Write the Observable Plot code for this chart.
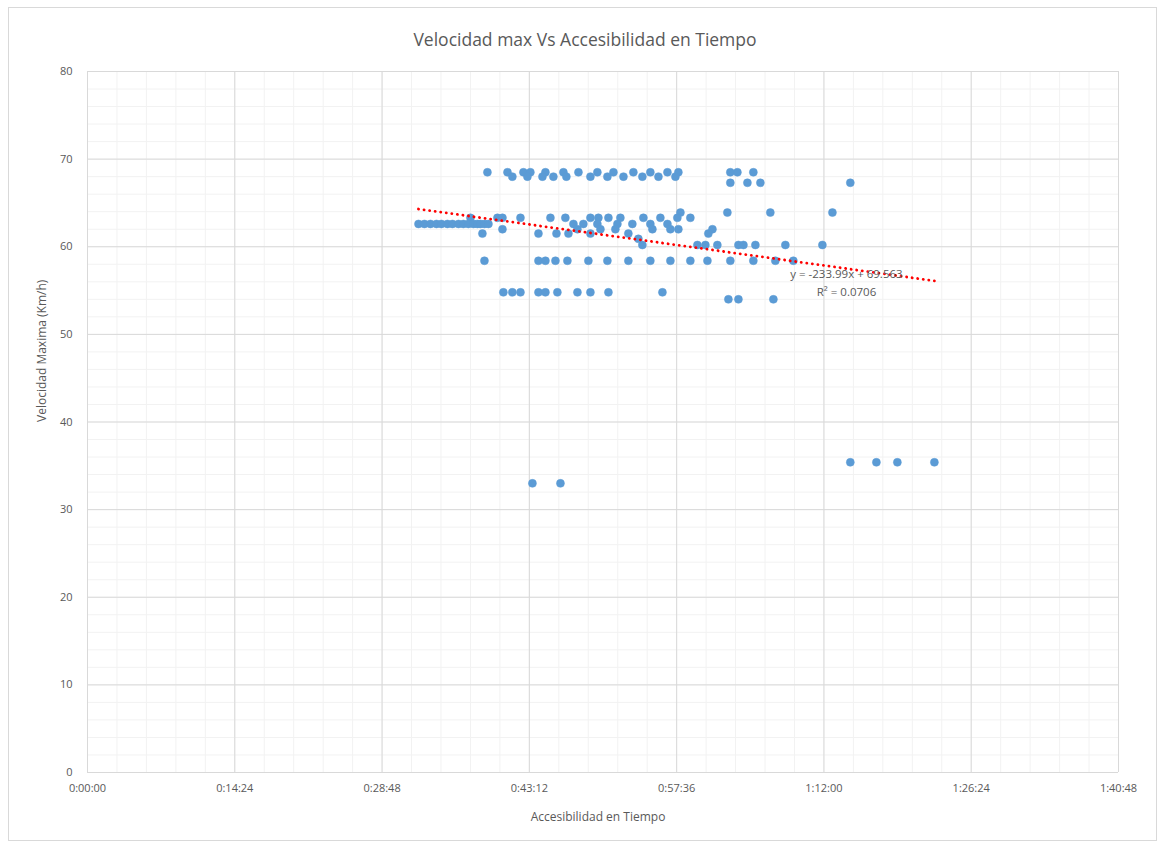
<!DOCTYPE html>
<html>
<head>
<meta charset="utf-8">
<script src="https://cdn.jsdelivr.net/npm/d3@7"></script>
<script src="https://cdn.jsdelivr.net/npm/@observablehq/plot@0.6"></script>
<style>
  body { margin: 0; background: #fff; font-family: "Open Sans", sans-serif; }
  #frame { position: absolute; left: 8px; top: 7px; width: 1149px; height: 834px; border: 1px solid #d9d9d9; box-sizing: border-box; }
  #title { position: absolute; left: 0; top: 27px; width: 1170px; text-align: center; font-size: 17.5px; color: #595959; }
  #chart { position: absolute; left: 0; top: 50px; }
</style>
</head>
<body>
<div id="frame"></div>
<div id="title">Velocidad max Vs Accesibilidad en Tiempo</div>
<div id="chart"></div>
<script>
// Velocidad máxima (km/h) for each row of points
const velocidad = [68.5, 68.0, 67.3, 63.9, 63.3, 62.6, 62.0, 61.5, 60.9, 60.2, 58.4, 54.8, 54.0, 35.4, 33.0];
// Accesibilidad en tiempo (minutes) of the points in each row above
const tiempos = [
  [39.10, 41.06, 42.62, 43.30, 44.77, 46.53, 48.00, 49.85, 51.42, 53.37, 55.03, 56.70, 57.77, 62.85, 63.54, 65.10],
  [41.54, 43.01, 44.48, 45.55, 46.82, 49.17, 50.83, 52.40, 54.25, 55.82, 57.48],
  [62.85, 64.52, 65.79, 74.58],
  [57.97, 62.56, 66.76, 72.83],
  [37.44, 40.08, 40.57, 42.33, 45.26, 46.72, 49.17, 49.95, 50.93, 52.10, 54.35, 56.01, 57.67, 58.94],
  [32.36, 32.94, 33.53, 34.12, 34.60, 35.19, 35.68, 36.27, 36.75, 37.24, 37.73, 38.12, 38.42, 38.81, 39.20, 47.51, 48.48, 49.85, 51.81, 53.27, 55.03, 56.70],
  [40.57, 47.90, 50.15, 51.61, 55.23, 56.99, 57.77, 61.10],
  [38.61, 44.09, 45.85, 47.02, 49.17, 52.88, 60.70],
  [53.86],
  [54.25, 59.63, 60.41, 61.58, 63.64, 64.13, 65.30, 68.23, 71.85],
  [38.81, 44.09, 44.77, 45.75, 46.92, 48.97, 50.83, 52.88, 55.03, 56.99, 58.94, 60.61, 62.85, 65.10, 67.25, 69.01],
  [40.66, 41.54, 42.33, 44.09, 44.77, 45.94, 47.90, 49.17, 50.93, 56.21],
  [62.66, 63.64, 67.06],
  [74.58, 77.13, 79.18, 82.80],
  [43.50, 46.24]
];
// Linear trendline as reported by the chart (x in days)
const trendSlope = -233.99;
const trendIntercept = 69.563;
const trendR2 = "0.0706";
// Axis ticks
const xTicks = [0, 14.4, 28.8, 43.2, 57.6, 72, 86.4, 100.8]; // minutes
const yTicks = [0, 10, 20, 30, 40, 50, 60, 70, 80];

const points = [];
velocidad.forEach((v, i) => tiempos[i].forEach(t => points.push({t, v})));

const tMin = d3.min(points, d => d.t), tMax = d3.max(points, d => d.t);
const trend = [tMin, tMax].map(t => ({t, v: trendSlope * t / 1440 + trendIntercept}));

const fmt = m => {
  const s = Math.round(m * 60);
  const h = Math.floor(s / 3600), mm = Math.floor((s % 3600) / 60), ss = s % 60;
  return `${h}:${String(mm).padStart(2, "0")}:${String(ss).padStart(2, "0")}`;
};

const xMinor = d3.range(0, 36).map(i => i * 2.88);
const yMinor = d3.range(0, 41).map(i => i * 2);

const chart = Plot.plot({
  width: 1165,
  height: 791,
  marginLeft: 87,
  marginRight: 47,
  marginTop: 21,
  marginBottom: 69,
  style: {fontFamily: "'Open Sans', sans-serif", fontSize: "11px", color: "#595959", background: "transparent"},
  x: {domain: [0, 100.8]},
  y: {domain: [0, 80]},
  marks: [
    Plot.ruleX(xMinor, {stroke: "#f2f2f2", strokeWidth: 1}),
    Plot.ruleY(yMinor, {stroke: "#f2f2f2", strokeWidth: 1}),
    Plot.ruleX(xTicks, {stroke: "#d9d9d9", strokeWidth: 1}),
    Plot.ruleY(yTicks, {stroke: "#d9d9d9", strokeWidth: 1}),
    Plot.axisX({ticks: xTicks, tickFormat: fmt, tickSize: 0, tickPadding: 12, label: null}),
    Plot.axisY({ticks: yTicks, tickSize: 0, tickPadding: 15, label: null}),
    Plot.text(["Accesibilidad en Tiempo"], {frameAnchor: "bottom", dy: 48, dx: -5, fontSize: 12, fill: "#595959"}),
    Plot.text(["Velocidad Maxima (Km/h)"], {frameAnchor: "left", rotate: -90, dx: -45, fontSize: 12, fill: "#595959"}),
    Plot.dot(points, {x: "t", y: "v", r: 4, fill: "#5b9bd5", stroke: "#5b9bd5", strokeWidth: 0.5}),
    Plot.line(trend, {x: "t", y: "v", stroke: "#ff0000", strokeWidth: 2.8, strokeDasharray: "0.1 5.5", strokeLinecap: "round"}),
    Plot.text([`y = ${trendSlope}x + ${trendIntercept}\nR² = ${trendR2}`], {
      x: () => 74.2, y: () => 56.1, text: d => d, fontSize: 11.5, fill: "#595959", lineHeight: 1.6, textAnchor: "middle"
    })
  ]
});
document.getElementById("chart").appendChild(chart);
</script>
</body>
</html>
